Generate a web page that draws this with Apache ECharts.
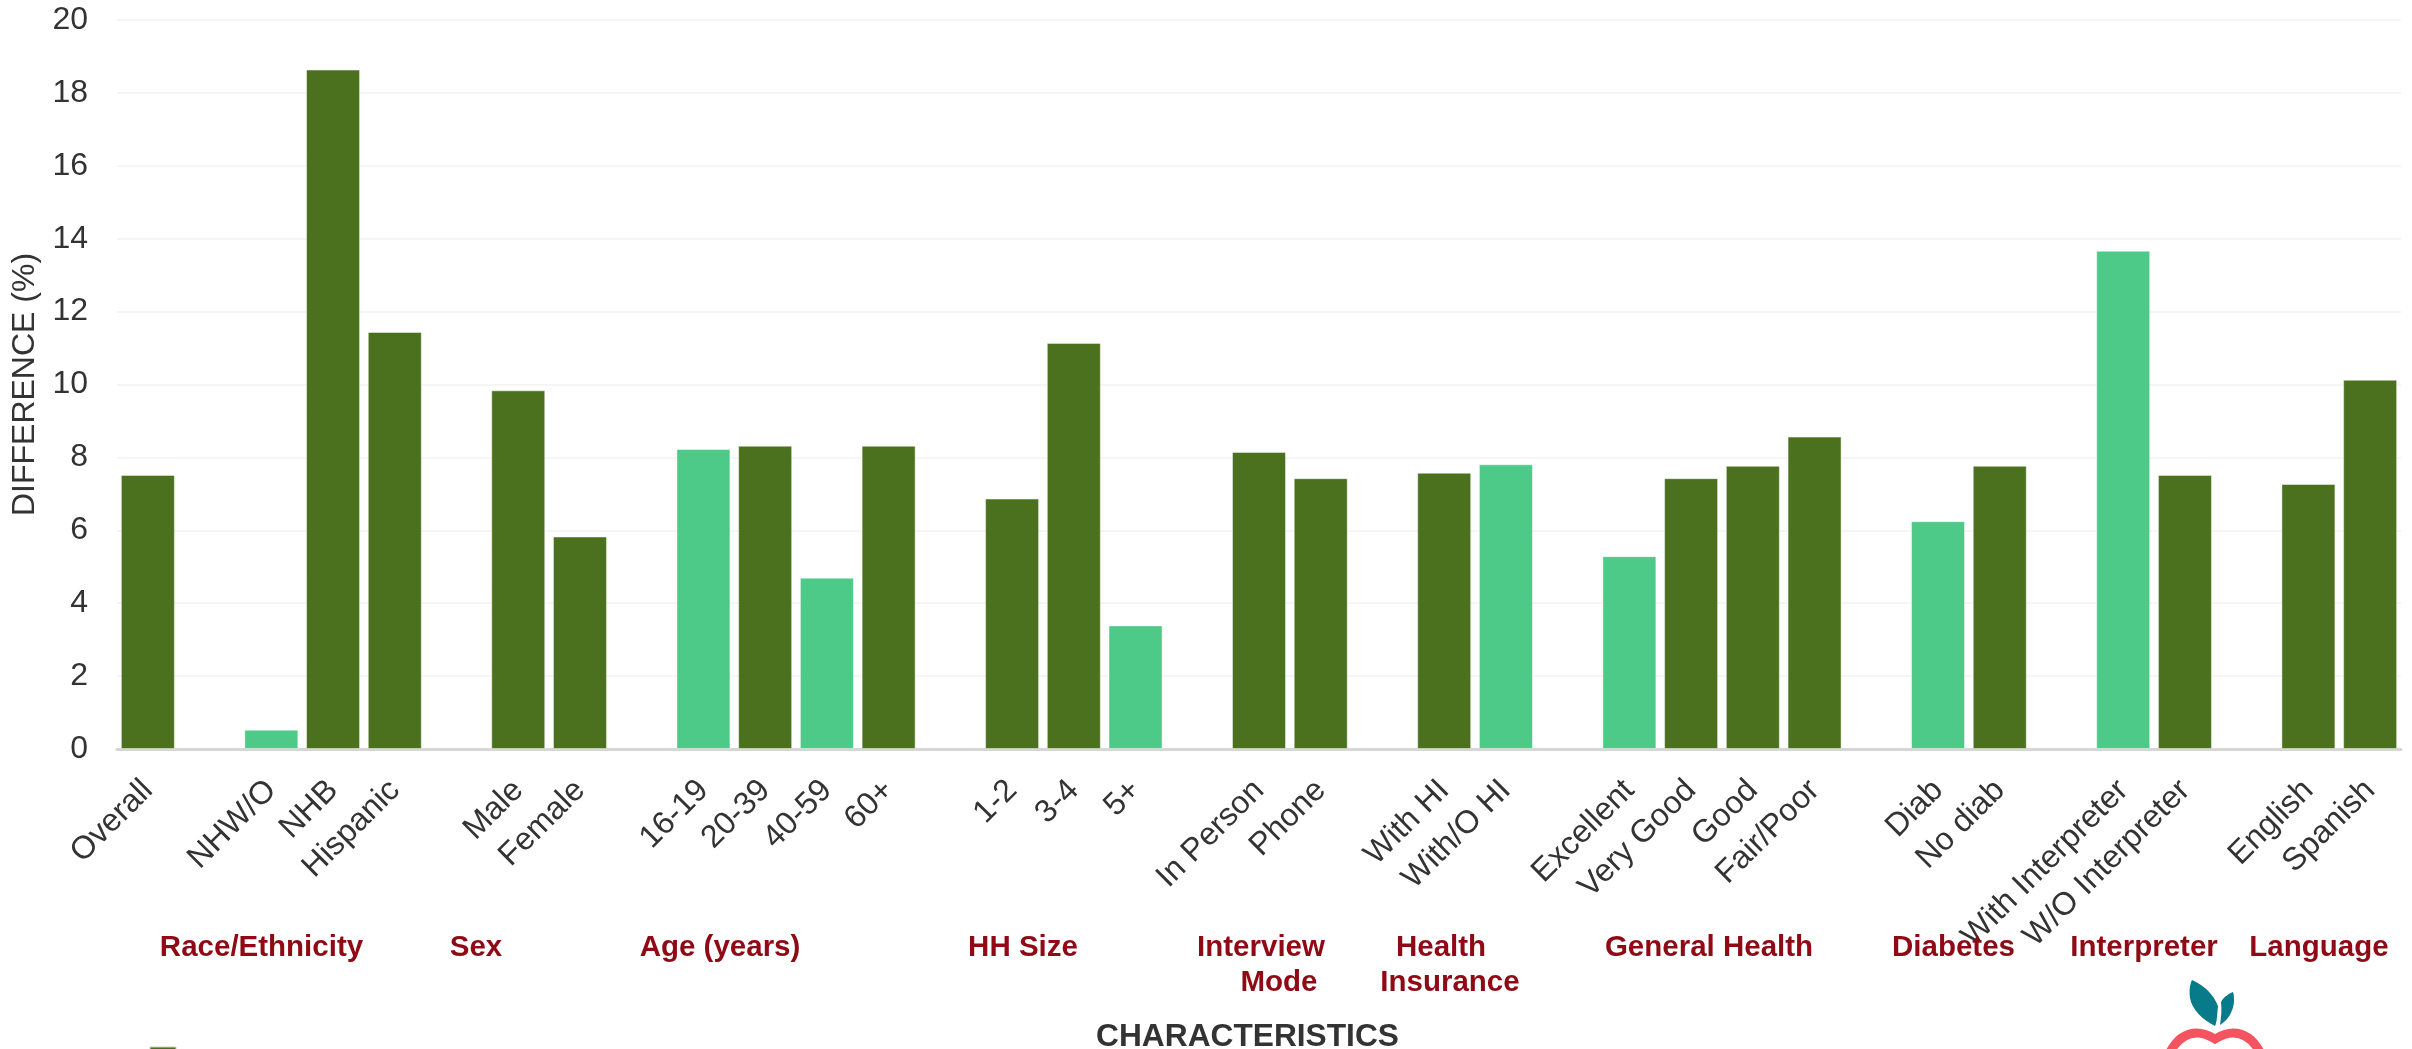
<!DOCTYPE html>
<html>
<head>
<meta charset="utf-8">
<title>Difference by characteristics</title>
<script src="https://cdn.jsdelivr.net/npm/echarts@6/dist/echarts.min.js"></script>
<style>
  html, body { margin: 0; padding: 0; background: #fff; overflow: hidden; }
  #chart { width: 2412px; height: 1049px; }
</style>
</head>
<body>
<div id="chart"></div>
<script>
// Empty strings leave the gaps between characteristic groups.
const categories = [
  'Overall', '',
  'NHW/O', 'NHB', 'Hispanic', '',
  'Male', 'Female', '',
  '16-19', '20-39', '40-59', '60+', '',
  '1-2', '3-4', '5+', '',
  'In Person', 'Phone', '',
  'With HI', 'With/O HI', '',
  'Excellent', 'Very Good', 'Good', 'Fair/Poor', '',
  'Diab', 'No diab', '',
  'With Interpreter', 'W/O Interpreter', '',
  'English', 'Spanish'
];
const differences = [
  7.52, null,
  0.53, 18.64, 11.44, null,
  9.84, 5.83, null,
  8.23, 8.32, 4.70, 8.32, null,
  6.87, 11.14, 3.39, null,
  8.15, 7.43, null,
  7.58, 7.81, null,
  5.29, 7.43, 7.77, 8.57, null,
  6.25, 7.77, null,
  13.67, 7.52, null,
  7.27, 10.13
];
// Bars drawn in the lighter green.
const lightBars = ['NHW/O', '16-19', '40-59', '5+', 'With/O HI', 'Excellent', 'Diab', 'With Interpreter'];
const yTicks = { min: 0, max: 20, interval: 2 };

const DARK = '#4b711e';
const LIGHT = '#4dc988';
const MAROON = '#8f0a15';
const INK = '#333333';

// Group captions below the axis: text, horizontal centre, caption line.
const groupCaptions = [
  ['Race/Ethnicity', 261.5, 0],
  ['Sex', 476, 0],
  ['Age (years)', 720, 0],
  ['HH Size', 1023, 0],
  ['Interview', 1261, 0],
  ['Mode', 1279, 1],
  ['Health', 1441, 0],
  ['Insurance', 1450, 1],
  ['General Health', 1709, 0],
  ['Diabetes', 1953.5, 0],
  ['Interpreter', 2144, 0],
  ['Language', 2319, 0]
];

const captionElements = groupCaptions.map(([text, x, line]) => ({
  type: 'text',
  x: x,
  y: 947.5 + line * 35,
  z: 5,
  style: {
    text: text,
    fill: MAROON,
    font: 'bold 29.5px "Liberation Sans", Arial, sans-serif',
    align: 'center',
    verticalAlign: 'middle'
  }
}));

// Apple logo shapes.
const logoShapes = {
  logoLeafLarge: 'M2192 980 C2206 986 2214 996 2218 1006 C2217 1016 2217 1022 2215 1026 C2203 1020 2192 1010 2190 998 C2189 990 2190 984 2192 980 Z',
  logoLeafSmall: 'M2233 992 C2228 994 2223 998 2221 1002 C2222 1010 2221 1018 2220 1025 C2228 1020 2233 1012 2234 1002 C2234 998 2234 994 2233 992 Z',
  logoBody: 'M2169 1054 C2176 1040 2186 1033 2197 1033 C2204 1033 2210 1036 2215 1039 C2220 1036 2226 1033 2233 1033 C2245 1033 2254 1040 2261 1054'
};
Object.keys(logoShapes).forEach((name) => {
  echarts.graphic.registerShape(name, echarts.graphic.extendPath(logoShapes[name], {}));
});

// Cropped legend swatch along the bottom edge and the apple logo.
const decorationElements = [
  { type: 'rect', shape: { x: 150, y: 1047, width: 26, height: 6 },
    style: { fill: DARK, stroke: '#c9d4ba', lineWidth: 1 } },
  { type: 'logoLeafLarge', style: { fill: '#077b8a' } },
  { type: 'logoLeafSmall', style: { fill: '#077b8a' } },
  { type: 'logoBody', style: { fill: 'none', stroke: '#f4545f', lineWidth: 9 } }
];

const chart = echarts.init(document.getElementById('chart'), null, { renderer: 'canvas' });
chart.setOption({
  animation: false,
  backgroundColor: '#ffffff',
  title: {
    text: 'CHARACTERISTICS',
    left: 1247.5,
    top: 1021,
    padding: 0,
    textAlign: 'center',
    textStyle: { color: INK, fontFamily: '"Liberation Sans", Arial, sans-serif', fontWeight: 'bold', fontSize: 31.7 }
  },
  grid: { left: 117, right: 11, top: 20, bottom: 300, containLabel: false, outerBoundsMode: 'none' },
  xAxis: {
    type: 'category',
    data: categories,
    offset: 1.5,
    axisLine: { show: true, lineStyle: { color: '#d6d6d6', width: 3 } },
    axisTick: { show: false },
    axisLabel: {
      interval: 0,
      rotate: 45,
      margin: 35,
      color: INK,
      fontFamily: '"Liberation Sans", Arial, sans-serif',
      fontSize: 32
    },
    splitLine: { show: false }
  },
  yAxis: {
    type: 'value',
    min: yTicks.min,
    max: yTicks.max,
    interval: yTicks.interval,
    name: 'DIFFERENCE (%)',
    nameLocation: 'middle',
    nameGap: 66.5,
    nameRotate: 90,
    nameTextStyle: { color: INK, fontFamily: '"Liberation Sans", Arial, sans-serif', fontSize: 32 },
    axisLine: { show: false },
    axisTick: { show: false },
    axisLabel: { margin: 29, padding: [6, 0, 0, 0], color: INK, fontFamily: '"Liberation Sans", Arial, sans-serif', fontSize: 32 },
    splitLine: { show: true, lineStyle: { color: '#f5f5f5', width: 2 } }
  },
  series: [{
    type: 'bar',
    name: 'Difference',
    barWidth: 54,
    data: differences.map((value, i) => ({
      value: value,
      itemStyle: {
        color: lightBars.includes(categories[i]) ? LIGHT : DARK,
        borderColor: 'rgba(255,255,255,0.45)',
        borderWidth: 1
      }
    }))
  }],
  graphic: captionElements.concat(decorationElements)
});
</script>
</body>
</html>
